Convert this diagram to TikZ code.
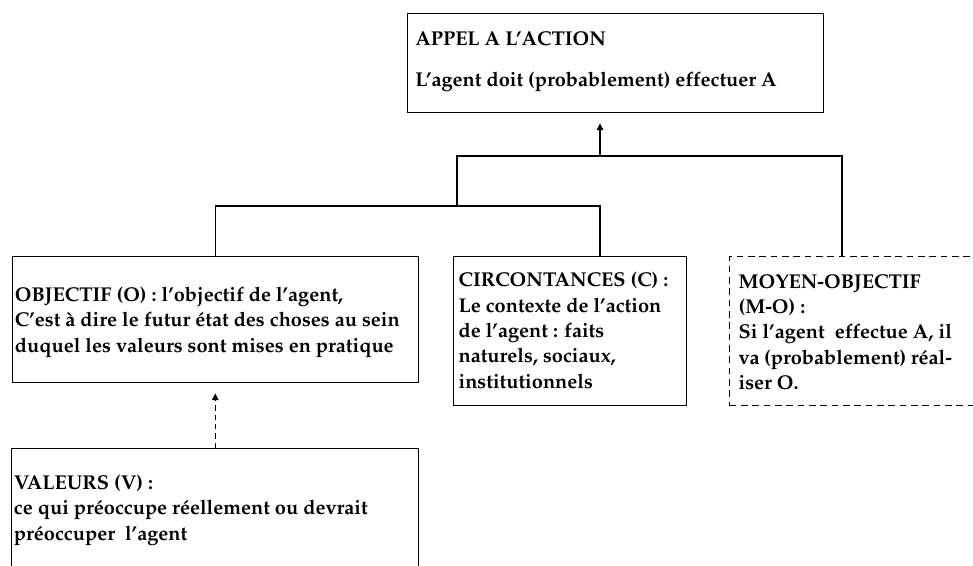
\documentclass[tikz,border=0pt]{standalone}
\usepackage[T1]{fontenc}
\usepackage{mathpazo}
\usepackage{tikz}
\usetikzlibrary{arrows.meta,positioning}

\begin{document}
\begin{tikzpicture}[x=0.75pt,y=-0.75pt,
  box/.style={draw,line width=1.1pt,anchor=north west,inner sep=0pt},
  dbox/.style={box,dash pattern=on 5pt off 3.5pt},
  txt/.style={anchor=north west,inner sep=0pt,align=left,font=\fontsize{15}{19}\selectfont\bfseries},
  link/.style={line width=0.8pt},
  arr/.style={link,-{Triangle[length=5pt,width=5pt]},shorten >=7.5pt},
  darr/.style={arr,dash pattern=on 4pt off 3pt}]
\useasboundingbox (0,0) rectangle (973,566);
\clip (0,0) rectangle (973,566);
\node[box,minimum width=312pt,minimum height=74.25pt] (act) at (407,13) {};
\node[box,minimum width=304.5pt,minimum height=94.5pt] (obj) at (12,256) {};
\node[box,minimum width=174.75pt,minimum height=111.75pt] (cir) at (453,256) {};
\node[dbox,minimum width=195.75pt,minimum height=111.75pt] (moy) at (729,256) {};
\node[box,minimum width=305.25pt,minimum height=120pt] (val) at (11,448) {};
\node[txt,below right=13.5pt and 6pt of act.north west] (acttxt) {APPEL A L'ACTION\\[11.75pt]L'agent doit (probablement) effectuer A};
\node[txt,below right=23pt and 2pt of obj.north west] (objtxt) {OBJECTIF (O) : l'objectif de l'agent,\\C'est à dire le futur état des choses au sein\\duquel les valeurs sont mises en pratique};
\node[txt,below right=12pt and 4pt of cir.north west] (cirtxt) {CIRCONTANCES (C) :\\Le contexte de l'action\\de l'agent : faits\\naturels, sociaux,\\institutionnels};
\node[txt,below right=13.5pt and 7pt of moy.north west] (moytxt) {MOYEN-OBJECTIF\\(M-O) :\\\makebox[160pt][s]{Si l'agent\ \ effectue A, il}\\\makebox[160pt][s]{va (probablement) réal-}\\iser O.};
\node[txt,below right=20pt and 2pt of val.north west] (valtxt) {VALEURS (V) :\\ce qui préoccupe réellement ou devrait\\préoccuper\ \ l'agent};
\coordinate (top) at (600,156);
\coordinate (mid) at (457,206);
\coordinate (cj) at (600,206);
\coordinate (mq) at (842,156);
\draw[arr] (top) -- (top |- act.south);
\draw[link] (mid) |- (mq) -- (mq |- moy.north);
\draw[link] (obj.north) |- (cj) -- (cj |- cir.north);
\draw[darr] (val.north) -- (val.north |- obj.south);
\end{tikzpicture}
\end{document}
